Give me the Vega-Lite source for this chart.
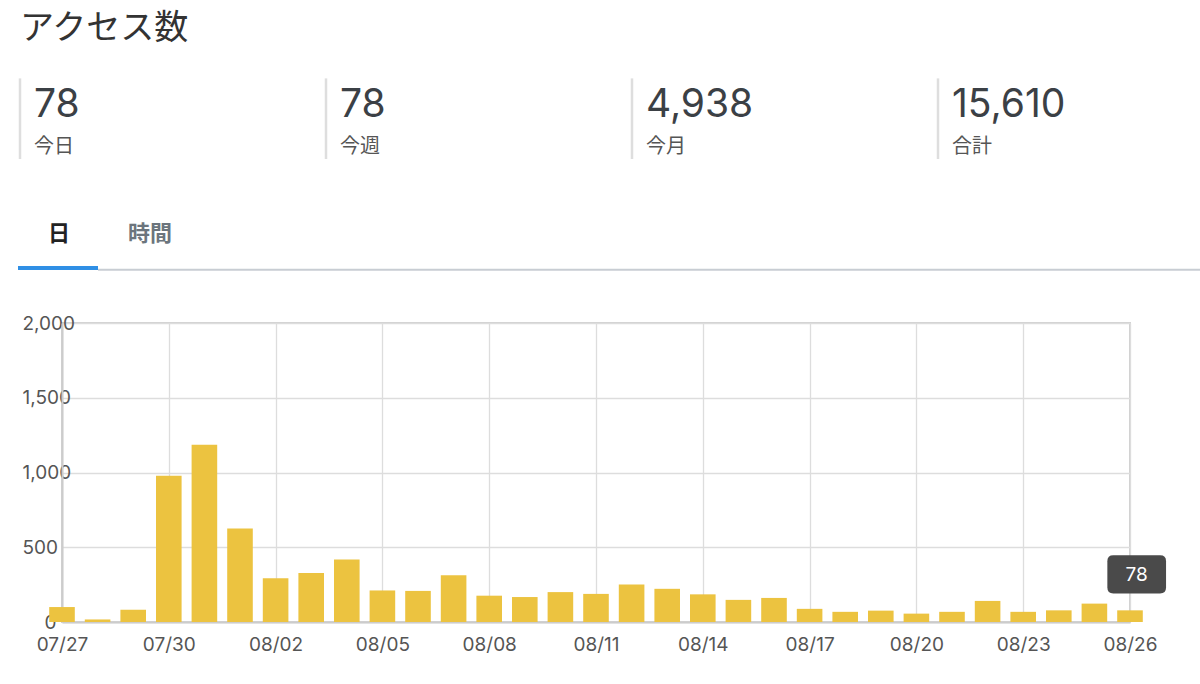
{
  "$schema": "https://vega.github.io/schema/vega-lite/v6.json",
  "width": 1068,
  "height": 299,
  "autosize": "none",
  "padding": {"left": 62, "top": 323, "right": 70, "bottom": 62},
  "background": "white",
  "config": {
    "font": "Inter, Noto Sans CJK JP, sans-serif",
    "view": {"stroke": "#d0d0d0", "strokeWidth": 2}
  },
  "datasets": {
    "daily": [
      {"date": "2023-07-27", "visits": 100},
      {"date": "2023-07-28", "visits": 17},
      {"date": "2023-07-29", "visits": 82},
      {"date": "2023-07-30", "visits": 979},
      {"date": "2023-07-31", "visits": 1186},
      {"date": "2023-08-01", "visits": 626},
      {"date": "2023-08-02", "visits": 292},
      {"date": "2023-08-03", "visits": 328},
      {"date": "2023-08-04", "visits": 418},
      {"date": "2023-08-05", "visits": 211},
      {"date": "2023-08-06", "visits": 208},
      {"date": "2023-08-07", "visits": 313},
      {"date": "2023-08-08", "visits": 176},
      {"date": "2023-08-09", "visits": 167},
      {"date": "2023-08-10", "visits": 200},
      {"date": "2023-08-11", "visits": 188},
      {"date": "2023-08-12", "visits": 251},
      {"date": "2023-08-13", "visits": 222},
      {"date": "2023-08-14", "visits": 185},
      {"date": "2023-08-15", "visits": 148},
      {"date": "2023-08-16", "visits": 161},
      {"date": "2023-08-17", "visits": 88},
      {"date": "2023-08-18", "visits": 68},
      {"date": "2023-08-19", "visits": 76},
      {"date": "2023-08-20", "visits": 56},
      {"date": "2023-08-21", "visits": 68},
      {"date": "2023-08-22", "visits": 141},
      {"date": "2023-08-23", "visits": 68},
      {"date": "2023-08-24", "visits": 78},
      {"date": "2023-08-25", "visits": 123},
      {"date": "2023-08-26", "visits": 78}
    ],
    "stats": [
      {"col": 0, "value": "78", "label": "今日"},
      {"col": 1, "value": "78", "label": "今週"},
      {"col": 2, "value": "4,938", "label": "今月"},
      {"col": 3, "value": "15,610", "label": "合計"}
    ],
    "tabs": [
      {"tab": "日", "active": true},
      {"tab": "時間", "active": false}
    ]
  },
  "resolve": {"scale": {"x": "independent", "y": "independent"}},
  "layer": [
    {
      "data": {"name": "daily"},
      "layer": [
        {
          "mark": {"type": "bar", "color": "#ECC340", "width": 25.6},
          "encoding": {
            "x": {
              "field": "date",
              "type": "temporal",
              "scale": {
                "type": "utc",
                "nice": false,
                "padding": 0,
                "domain": [
                  {"year": 2023, "month": 7, "date": 27, "utc": true},
                  {"year": 2023, "month": 8, "date": 26, "utc": true}
                ]
              },
              "axis": {
                "title": null,
                "format": "%m/%d",
                "values": [
                  {"year": 2023, "month": 7, "date": 27, "utc": true},
                  {"year": 2023, "month": 7, "date": 30, "utc": true},
                  {"year": 2023, "month": 8, "date": 2, "utc": true},
                  {"year": 2023, "month": 8, "date": 5, "utc": true},
                  {"year": 2023, "month": 8, "date": 8, "utc": true},
                  {"year": 2023, "month": 8, "date": 11, "utc": true},
                  {"year": 2023, "month": 8, "date": 14, "utc": true},
                  {"year": 2023, "month": 8, "date": 17, "utc": true},
                  {"year": 2023, "month": 8, "date": 20, "utc": true},
                  {"year": 2023, "month": 8, "date": 23, "utc": true},
                  {"year": 2023, "month": 8, "date": 26, "utc": true}
                ],
                "grid": true,
                "gridColor": "#dddddd",
                "gridWidth": 1.3,
                "ticks": false,
                "tickSize": 0,
                "labelFlush": false,
                "labelOverlap": false,
                "labelPadding": 13,
                "labelFontSize": 19,
                "labelColor": "#555555",
                "domainColor": "#cccccc",
                "domainWidth": 2
              }
            },
            "y": {
              "field": "visits",
              "type": "quantitative",
              "scale": {"domain": [0, 2000], "nice": false},
              "axis": {
                "title": null,
                "values": [0, 500, 1000, 1500, 2000],
                "format": ",.0f",
                "grid": true,
                "gridColor": "#dddddd",
                "gridWidth": 1.3,
                "ticks": false,
                "tickSize": 0,
                "labelAlign": "left",
                "labelPadding": {"condition": {"test": "datum.value == 0", "value": 18}, "value": 40},
                "labelFontSize": 19,
                "labelColor": "#555555",
                "labelFlush": false,
                "labelOverlap": false,
                "domainColor": "#cccccc",
                "domainWidth": 2
              }
            }
          }
        },
        {
          "transform": [{"filter": {"field": "date", "equal": {"year": 2023, "month": 8, "date": 26, "utc": true}}}],
          "mark": {
            "type": "point",
            "shape": "M-0.796,-0.652L0.796,-0.652Q1,-0.652 1,-0.448L1,0.448Q1,0.652 0.796,0.652L-0.796,0.652Q-1,0.652 -1,0.448L-1,-0.448Q-1,-0.652 -0.796,-0.652Z",
            "size": 3446,
            "filled": true,
            "color": "#4a4a4a",
            "opacity": 1,
            "strokeWidth": 0,
            "xOffset": 6.7,
            "yOffset": -36
          },
          "encoding": {
            "x": {"field": "date", "type": "temporal"},
            "y": {"field": "visits", "type": "quantitative"}
          }
        },
        {
          "transform": [{"filter": {"field": "date", "equal": {"year": 2023, "month": 8, "date": 26, "utc": true}}}],
          "mark": {
            "type": "text",
            "color": "#ffffff",
            "fontSize": 19,
            "align": "center",
            "baseline": "middle",
            "dx": 6.7,
            "dy": -35
          },
          "encoding": {
            "x": {"field": "date", "type": "temporal"},
            "y": {"field": "visits", "type": "quantitative"},
            "text": {"field": "visits", "type": "quantitative"}
          }
        }
      ]
    },
    {
      "data": {"name": "stats"},
      "layer": [
        {
          "mark": {"type": "rule", "color": "#dedede", "strokeWidth": 2.5, "yOffset": -38.3, "y2Offset": 5.6},
          "encoding": {
            "x": {
              "field": "col",
              "type": "quantitative",
              "scale": {"domain": [0, 3], "range": [-42, 876], "nice": false, "zero": false},
              "axis": null
            },
            "y": {
              "datum": 1,
              "type": "quantitative",
              "scale": {"domain": [0, 1, 2], "range": [-284, -206.3, -169.6], "nice": false, "zero": false},
              "axis": null
            },
            "y2": {"datum": 2}
          }
        },
        {
          "mark": {"type": "text", "align": "left", "baseline": "alphabetic", "dx": 14, "fontSize": 39, "color": "#3b4045"},
          "encoding": {
            "x": {"field": "col", "type": "quantitative"},
            "y": {"datum": 1, "type": "quantitative"},
            "text": {"field": "value", "type": "nominal"}
          }
        },
        {
          "mark": {"type": "text", "align": "left", "baseline": "alphabetic", "dx": 14, "fontSize": 20, "color": "#555555"},
          "encoding": {
            "x": {"field": "col", "type": "quantitative"},
            "y": {"datum": 2, "type": "quantitative"},
            "text": {"field": "label", "type": "nominal"}
          }
        },
        {
          "transform": [{"filter": "datum.col == 0"}],
          "mark": {"type": "text", "align": "left", "baseline": "alphabetic", "fontSize": 34, "color": "#333333"},
          "encoding": {
            "x": {"field": "col", "type": "quantitative"},
            "y": {"datum": 0, "type": "quantitative"},
            "text": {"value": "アクセス数"}
          }
        }
      ]
    },
    {
      "data": {"name": "tabs"},
      "layer": [
        {
          "transform": [{"filter": "datum.active"}],
          "mark": {"type": "rule", "color": "#c8cdd3", "strokeWidth": 2, "xOffset": 39, "x2Offset": 1050, "yOffset": 1.7},
          "encoding": {
            "x": {
              "datum": "日",
              "type": "nominal",
              "scale": {"type": "point", "domain": ["日", "時間"], "range": [-3, 88], "padding": 0},
              "axis": null
            },
            "x2": {"datum": "時間"},
            "y": {
              "datum": 1,
              "type": "quantitative",
              "scale": {"domain": [0, 1], "range": [-82, -55], "nice": false, "zero": false},
              "axis": null
            }
          }
        },
        {
          "transform": [{"filter": "datum.active"}],
          "mark": {"type": "rule", "color": "#2f8fe5", "strokeWidth": 4, "xOffset": -41, "x2Offset": 39},
          "encoding": {
            "x": {"field": "tab", "type": "nominal"},
            "x2": {"field": "tab"},
            "y": {"datum": 1, "type": "quantitative"}
          }
        },
        {
          "mark": {"type": "text", "align": "center", "baseline": "alphabetic", "fontSize": 22, "fontWeight": "bold"},
          "encoding": {
            "x": {"field": "tab", "type": "nominal"},
            "y": {"datum": 0, "type": "quantitative"},
            "text": {"field": "tab", "type": "nominal"},
            "color": {"condition": {"test": "datum.active", "value": "#222222"}, "value": "#6c757d"}
          }
        }
      ]
    }
  ]
}
